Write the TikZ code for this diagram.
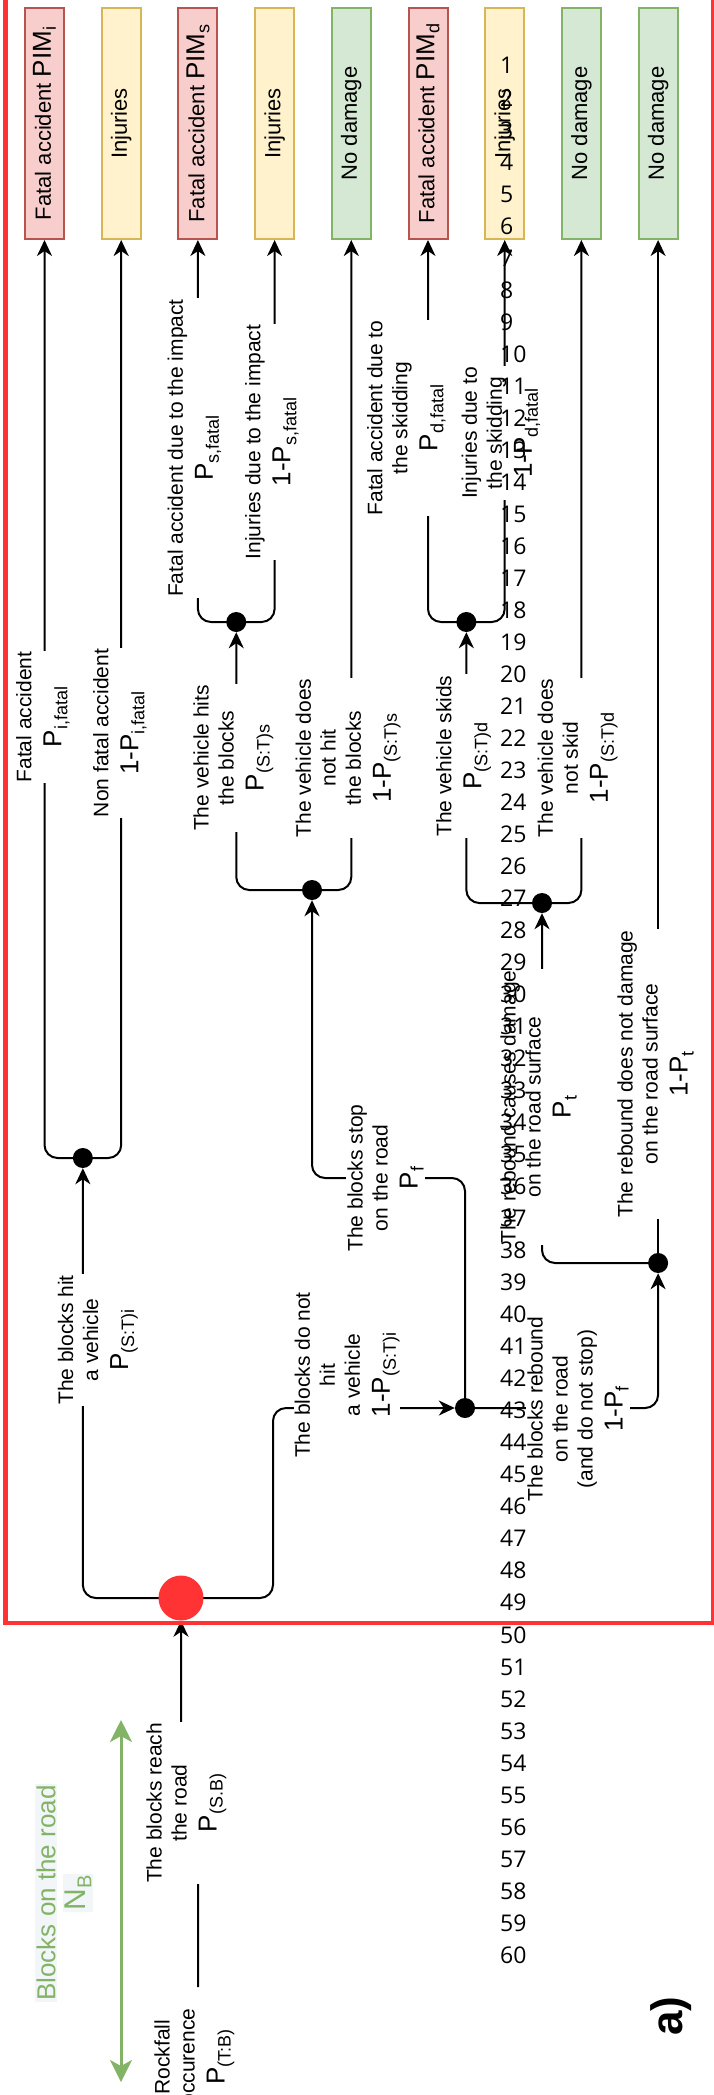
\documentclass[tikz,border=0pt]{standalone}
\usepackage{fontspec}
\setmainfont{Liberation Sans}
\newfontfamily\numfont{Open Sans}
\usetikzlibrary{arrows.meta}
\definecolor{myred}{HTML}{FF3333}
\definecolor{fatalfill}{HTML}{F8CECC}
\definecolor{fataldraw}{HTML}{B85450}
\definecolor{injfill}{HTML}{FFF2CC}
\definecolor{injdraw}{HTML}{D6B656}
\definecolor{okfill}{HTML}{D5E8D4}
\definecolor{okdraw}{HTML}{82B366}
\definecolor{lblbg}{HTML}{F3F6F9}
\pgfdeclarelayer{background}
\pgfsetlayers{background,main}
\newcommand{\Psub}[2]{{\fontsize{26}{30}\selectfont #1}\raisebox{-6pt}{\fontsize{18}{20}\selectfont #2}}
\newcommand{\PIM}[1]{{\fontsize{26}{30}\selectfont PIM}\raisebox{-5pt}{\fontsize{18}{20}\selectfont #1}}
\begin{document}
\begin{tikzpicture}[x=1pt,y=-1pt,
  conn/.style={line width=2pt, rounded corners=13pt},
  arr/.style={-{Stealth[length=16pt,width=15pt,inset=5pt]}},
  lbl/.style={rotate=90, align=center, fill=white, inner sep=1pt, font=\fontsize{21}{25}\selectfont},
  resbox/.style={draw, line width=2pt, minimum width=39pt, minimum height=231pt, inner sep=0pt, font=\fontsize{22}{26}\selectfont},
  fatal/.style={resbox, fill=fatalfill, draw=fataldraw},
  inj/.style={resbox, fill=injfill, draw=injdraw},
  ok/.style={resbox, fill=okfill, draw=okdraw},
  dot/.style={circle, fill=black, minimum size=20pt, inner sep=0pt},
  numstyle/.style={anchor=base west, inner sep=0pt, font=\numfont\fontsize{23}{28}\selectfont},
]
\useasboundingbox (0,0) rectangle (714,2095);

% result boxes
\node[fatal] (b1) at (44.5,123.5) {\rotatebox{90}{Fatal accident \PIM{i}}};
\node[inj]   (b2) at (121.2,123.5) {\rotatebox{90}{Injuries}};
\node[fatal] (b3) at (197.9,123.5) {\rotatebox{90}{Fatal accident \PIM{s}}};
\node[inj]   (b4) at (274.6,123.5) {\rotatebox{90}{Injuries}};
\node[ok]    (b5) at (351.3,123.5) {\rotatebox{90}{No damage}};
\node[fatal] (b6) at (428,123.5) {\rotatebox{90}{Fatal accident \PIM{d}}};
\node[inj]   (b7) at (504.7,123.5) {\rotatebox{90}{Injuries}};
\node[ok]    (b8) at (581.4,123.5) {\rotatebox{90}{No damage}};
\node[ok]    (b9) at (658.1,123.5) {\rotatebox{90}{No damage}};

% junction dots
\node[dot] (d1) at (82.85,1158) {};
\node[dot] (d2) at (465,1408) {};
\node[dot] (d3) at (542,903) {};
\node[dot] (d4) at (658.1,1263) {};
\node[dot] (d5) at (466.35,622) {};
\node[dot] (d6) at (236.25,622) {};
\node[dot] (d7) at (312,890) {};
\node[circle, fill=myred, minimum size=45pt, inner sep=0pt] (r) at (181,1598) {};

\coordinate (kstop) at (465,1178);
\coordinate (knohit) at (273,1408);
\coordinate (krock) at (198,1987);

% labels
\node[lbl] (lFi) at (43,717) {Fatal accident\\[5pt]\Psub{P}{i,fatal}};
\node[lbl] (lNi) at (120,733) {Non fatal accident\\[5pt]\Psub{1-P}{i,fatal}};
\node[lbl] (lFs) at (194.5,448) {Fatal accident due to the impact\\[5pt]\Psub{P}{s,fatal}};
\node[lbl] (lIs) at (272,442) {Injuries due to the impact\\[5pt]\Psub{1-P}{s,fatal}};
\node[lbl] (lVh) at (233.5,758) {The vehicle hits\\the blocks\\[5pt]\Psub{P}{(S:T)s}};
\node[lbl] (lVn) at (348,758) {The vehicle does\\not hit\\the blocks\\[5pt]\Psub{1-P}{(S:T)s}};
\node[lbl] (lFd) at (406.5,418) {Fatal accident due to\\the skidding\\[5pt]\Psub{P}{d,fatal}};
\node[lbl] (lId) at (501,433) {Injuries due to\\the skidding\\[5pt]\Psub{1-P}{d,fatal}};
\node[lbl] (lVs) at (463.5,756) {The vehicle skids\\[5pt]\Psub{P}{(S:T)d}};
\node[lbl] (lVk) at (577.5,758) {The vehicle does\\not skid\\[5pt]\Psub{1-P}{(S:T)d}};
\node[lbl] (lRd) at (538.5,1107) {The rebound causes damage\\on the road surface\\[5pt]\Psub{P}{t}};
\node[lbl] (lRn) at (655.5,1074) {The rebound does not damage\\on the road surface\\[5pt]\Psub{1-P}{t}};
\node[lbl] (lSt) at (385.5,1178) {The blocks stop\\on the road\\[5pt]\Psub{P}{f}};
\node[lbl] (lNh) at (347,1375) {The blocks do not\\hit\\a vehicle\\[5pt]\Psub{1-P}{(S:T)i}};
\node[lbl] (lRb) at (578,1409) {The blocks rebound\\on the road\\(and do not stop)\\[5pt]\Psub{1-P}{f}};
\node[lbl] (lBh) at (98,1340) {The blocks hit\\a vehicle\\[5pt]\Psub{P}{(S:T)i}};
\node[lbl] (lRr) at (186.5,1803) {The blocks reach\\the road\\[5pt]\Psub{P}{(S.B)}};
\node[lbl, fill=none] (rock) at (194.5,2057) {Rockfall\\occurence\\[5pt]\Psub{P}{(T:B)}};

\node[rotate=90, align=center, text=okdraw, inner sep=0pt, font=\fontsize{26}{31}\selectfont] (gl) at (64,1893) {\setlength{\fboxsep}{1.5pt}\colorbox{lblbg}{Blocks on the road}\\[-1pt]\setlength{\fboxsep}{1.5pt}\colorbox{lblbg}{{\fontsize{30}{34}\selectfont N}\raisebox{-6pt}{\fontsize{20}{24}\selectfont B}}};
\coordinate (g1) at (121,1720);
\coordinate (g2) at (121,2082);

\node[rotate=90, inner sep=0pt, font=\bfseries\fontsize{44}{50}\selectfont] (alab) at (671,2016) {a)};

\begin{pgfonlayer}{background}
\draw[conn,arr] (d1.center) -| (b1.south);
\draw[conn,arr] (d1.center) -| (b2.south);
\draw[conn,arr] (d6.center) -| (b3.south);
\draw[conn,arr] (d6.center) -| (b4.south);
\draw[conn,arr] (d7.center) -| (b5.south);
\draw[conn,arr] (d7.center) -| (d6.south);
\draw[conn,arr] (d5.center) -| (b6.south);
\draw[conn,arr] (d5.center) -| (b7.south);
\draw[conn,arr] (d3.center) -| (d5.south);
\draw[conn,arr] (d3.center) -| (b8.south);
\draw[conn,arr] (d4.center) -| (d3.south);
\draw[conn,arr] (d4.center) -- (b9.south);
\draw[conn,arr] (d2.center) -| (d4.south);
\draw[conn,arr] (d2.center) -- (kstop) -| (d7.south);
\draw[conn,arr] (r.center) -| (d1.south);
\draw[conn,arr] (r.center) -| (knohit) -- (d2.west);
\draw[conn,arr] (krock) -- (krock |- lRr.center) -- (r |- lRr.center) -- (r.south);
\draw[line width=3pt, draw=okdraw, {Stealth[length=22pt,width=22pt,inset=6pt]}-{Stealth[length=22pt,width=22pt,inset=6pt]}] (g1) -- (g2);
\end{pgfonlayer}

% red frame
\draw[line width=4.5pt, draw=myred] (5.5,-10) rectangle (713,1623);

% line numbers
\foreach \n in {1,...,60} {
  \node[numstyle] (n\n) at (500,{74+32.02*(\n-1)}) {\n};
}
\end{tikzpicture}
\end{document}
